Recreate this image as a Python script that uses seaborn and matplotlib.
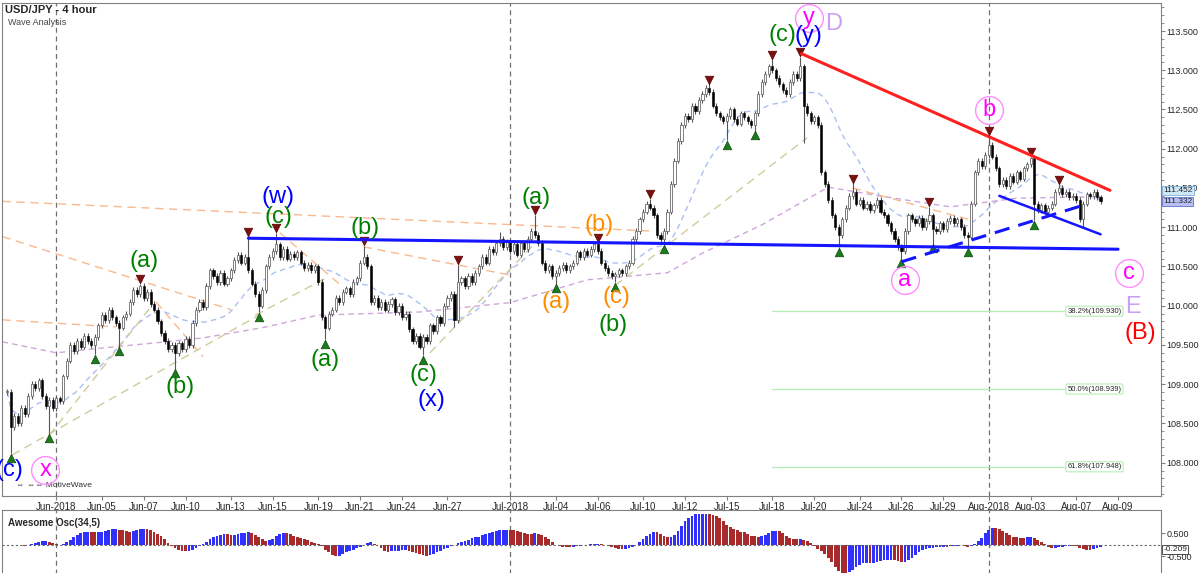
import numpy as np
import pandas as pd
import seaborn as sns
import matplotlib.pyplot as plt
import matplotlib.ticker as mticker

# ---- data --------------------------------------------------------------
# USD/JPY 4-hour closes, one per bar (29 May 2018 16:00 -> 8 Aug 2018 04:00)
closes = [
    108.90, 108.45, 108.60, 108.50, 108.70, 108.62, 108.85, 109.00, 108.95, 109.05,
    108.85, 108.72, 108.80, 108.70, 108.82, 108.78, 109.10, 109.30, 109.50, 109.42,
    109.55, 109.48, 109.62, 109.55, 109.50, 109.60, 109.75, 109.88, 109.82, 109.95,
    109.85, 109.78, 109.72, 109.85, 109.90, 110.05, 110.20, 110.15, 110.25, 110.10,
    110.18, 110.02, 109.95, 109.80, 109.65, 109.55, 109.45, 109.50, 109.40, 109.52,
    109.45, 109.58, 109.50, 109.78, 109.95, 110.05, 109.98, 110.25, 110.45, 110.38,
    110.30, 110.42, 110.28, 110.35, 110.45, 110.58, 110.65, 110.55, 110.62, 110.45,
    110.28, 110.15, 110.00, 110.20, 110.50, 110.62, 110.70, 110.78, 110.62, 110.72,
    110.60, 110.66, 110.62, 110.68, 110.55, 110.48, 110.52, 110.45, 110.50, 110.30,
    109.85, 109.72, 109.90, 109.95, 110.10, 110.05, 110.18, 110.22, 110.15, 110.30,
    110.35, 110.55, 110.62, 110.50, 110.05, 110.10, 109.98, 110.05, 109.95, 110.02,
    110.08, 109.92, 110.00, 109.85, 109.90, 109.70, 109.55, 109.62, 109.48, 109.60,
    109.55, 109.75, 109.68, 109.85, 109.78, 110.00, 110.10, 110.15, 109.82, 110.30,
    110.35, 110.25, 110.38, 110.30, 110.42, 110.50, 110.62, 110.55, 110.72, 110.68,
    110.80, 110.85, 110.75, 110.82, 110.70, 110.78, 110.65, 110.80, 110.72, 110.85,
    110.95, 110.90, 110.80, 110.55, 110.45, 110.50, 110.38, 110.42, 110.48, 110.52,
    110.45, 110.50, 110.55, 110.68, 110.62, 110.70, 110.65, 110.72, 110.78, 110.70,
    110.55, 110.48, 110.42, 110.38, 110.40, 110.45, 110.42, 110.50, 110.55, 110.85,
    110.95, 111.10, 111.20, 111.30, 111.25, 111.15, 110.90, 110.85, 110.95, 111.20,
    111.55, 111.85, 112.10, 112.30, 112.42, 112.38, 112.55, 112.48, 112.62, 112.70,
    112.78, 112.72, 112.55, 112.45, 112.40, 112.35, 112.42, 112.50, 112.38, 112.32,
    112.45, 112.40, 112.35, 112.30, 112.45, 112.70, 112.85, 112.95, 113.05, 113.00,
    112.90, 112.82, 112.75, 112.70, 112.85, 112.95, 112.90, 113.05, 112.55, 112.45,
    112.35, 112.40, 112.30, 111.70, 111.55, 111.35, 111.15, 111.00, 110.90, 111.10,
    111.25, 111.40, 111.45, 111.30, 111.35, 111.25, 111.30, 111.22, 111.28, 111.35,
    111.20, 111.15, 111.05, 110.95, 110.85, 110.75, 110.70, 110.95, 111.15, 111.10,
    111.05, 111.12, 111.00, 111.08, 111.15, 110.98, 110.95, 111.05, 110.98, 111.08,
    111.12, 111.05, 111.10, 111.00, 110.90, 110.88, 111.30, 111.70, 111.85, 111.78,
    111.92, 112.05, 111.90, 111.75, 111.55, 111.60, 111.52, 111.65, 111.58, 111.70,
    111.62, 111.75, 111.80, 111.88, 111.30, 111.22, 111.28, 111.20, 111.25, 111.30,
    111.45, 111.50, 111.42, 111.45, 111.38, 111.40, 111.35, 111.10, 111.30, 111.42,
    111.40, 111.45, 111.38, 111.33,
]

# swing highs (red markers) and swing lows (green markers): bar -> wick price
swing_highs = {38: 110.28, 69: 110.88, 77: 110.93, 102: 110.76, 129: 110.52, 151: 111.16,
               169: 110.80, 184: 111.36, 201: 112.82, 219: 113.14, 227: 113.17, 242: 111.56,
               264: 111.26, 281: 112.16, 293: 111.90, 301: 111.54}
swing_lows = {1: 108.12, 12: 108.38, 25: 109.38, 32: 109.48, 48: 109.20, 72: 109.92,
              91: 109.57, 119: 109.37, 157: 110.28, 174: 110.30, 188: 110.78, 206: 112.11,
              214: 112.23, 238: 110.75, 256: 110.60, 265: 110.79, 275: 110.75, 294: 111.09}
other_highs = {141: 110.94}
other_lows = {128: 109.73, 228: 112.07, 308: 111.00}

# slow moving average (purple), read at a few bars
slow_ma_bars = [-1.4, 14, 27, 43, 56, 73, 89, 118, 144, 166, 189, 199, 216, 235, 251, 270, 289, 313]
slow_ma_vals = [109.54, 109.40, 109.46, 109.53, 109.59, 109.72, 109.88, 109.92, 110.04, 110.33,
                110.42, 110.67, 111.03, 111.51, 111.39, 111.26, 111.37, 111.39]

tick_dates = ["2018-06-01", "2018-06-05", "2018-06-07", "2018-06-10", "2018-06-13", "2018-06-15",
              "2018-06-19", "2018-06-21", "2018-06-24", "2018-06-27", "2018-07-01", "2018-07-04",
              "2018-07-06", "2018-07-10", "2018-07-12", "2018-07-15", "2018-07-18", "2018-07-20",
              "2018-07-24", "2018-07-26", "2018-07-29", "2018-08-01", "2018-08-03", "2018-08-07",
              "2018-08-09"]
tick_labels = ["Jun-2018", "Jun-05", "Jun-07", "Jun-10", "Jun-13", "Jun-15", "Jun-19", "Jun-21",
               "Jun-24", "Jun-27", "Jul-2018", "Jul-04", "Jul-06", "Jul-10", "Jul-12", "Jul-15",
               "Jul-18", "Jul-20", "Jul-24", "Jul-26", "Jul-29", "Aug-2018", "Aug-03", "Aug-07",
               "Aug-09"]
month_dates = ["2018-06-01", "2018-07-01", "2018-08-01"]

# fibonacci retracement levels
fib_names = ["38.2%", "50.0%", "61.8%"]
fib_levels = [109.930, 108.939, 107.948]
fib_span = (219, 303)

# drawn trend lines: (bar0, price0, bar1, price1)
orange_lines = [(-1.4, 111.33, 185, 110.95), (-1.4, 110.88, 64, 109.95), (-1.4, 109.82, 31, 109.73),
                (40, 110.18, 56, 109.35), (78, 110.93, 96, 110.24), (102, 110.75, 144, 110.39),
                (242, 111.50, 276, 111.09)]
tan_lines = [(1.4, 108.10, 72, 109.88), (12, 108.35, 41, 109.98), (71, 109.88, 92, 110.37),
             (121, 109.40, 152, 110.84), (174, 110.26, 229, 112.14)]
red_line = (227.4, 113.21, 315.7, 111.47)
blue_flat = (69, 110.86, 318, 110.72)
blue_lower = (284, 111.40, 313, 110.91)
blue_dashed = (256, 110.56, 308, 111.28)

# wave labels: text, bar, price, colour, circled
wave_labels = [
    ("(c)", 0.6, 107.91, "#0000ff", False), ("x", 10.9, 107.91, "#ff00ff", True),
    ("(a)", 39, 110.57, "#008000", False), ("(b)", 49.4, 108.96, "#008000", False),
    ("(w)", 77.4, 111.39, "#0000ff", False), ("(c)", 77.7, 111.13, "#008000", False),
    ("(a)", 91, 109.31, "#008000", False), ("(b)", 102.3, 110.99, "#008000", False),
    ("(c)", 119, 109.12, "#008000", False), ("(x)", 121.4, 108.80, "#0000ff", False),
    ("(a)", 151.4, 111.37, "#008000", False), ("(a)", 157.1, 110.05, "#ff8c00", False),
    ("(b)", 169.4, 111.03, "#ff8c00", False), ("(c)", 174.3, 110.11, "#ff8c00", False),
    ("(b)", 173.4, 109.75, "#008000", False), ("(c)", 222, 113.45, "#008000", False),
    ("(y)", 229.4, 113.44, "#0000ff", False), ("y", 229.4, 113.67, "#ff00ff", True),
    ("D", 236.6, 113.59, "#c9a0f5", False), ("a", 257, 110.33, "#ff00ff", True),
    ("b", 281, 112.49, "#ff00ff", True), ("c", 321, 110.42, "#ff00ff", True),
    ("E", 322.3, 109.98, "#c9a0f5", False), ("(B)", 324.3, 109.65, "#ff0000", False),
]

# ---- bar clock: 6 bars per weekday, one Sunday-evening bar ----------------
bar_times = []
t = pd.Timestamp("2018-05-29 16:00")
while len(bar_times) < len(closes) + 25:
    if t.weekday() < 5 or (t.weekday() == 6 and t.hour == 20):
        bar_times.append(t)
    t += pd.Timedelta(hours=4)
bar_days = pd.Series([bt.normalize() for bt in bar_times])


def bar_of(day):
    return int(bar_days[bar_days == pd.Timestamp(day)].index[0])


n = len(closes)
df = pd.DataFrame({"bar": np.arange(n), "close": closes})
df["open"] = [closes[0]] + closes[:-1]
df["high"] = df[["open", "close"]].max(axis=1) + 0.035
df["low"] = df[["open", "close"]].min(axis=1) - 0.035
for b, v in {**swing_highs, **other_highs}.items():
    df.loc[b, "high"] = v
for b, v in {**swing_lows, **other_lows}.items():
    df.loc[b, "low"] = v

median = (df["high"] + df["low"]) / 2
df["ao"] = median.rolling(5, min_periods=1).mean() - median.rolling(34, min_periods=1).mean()
df["fast_ma"] = df["close"].rolling(20, min_periods=1).mean()

# ---- figure -----------------------------------------------------------
sns.set_style("white")
plt.rcParams["font.family"] = ["Liberation Sans", "DejaVu Sans"]

fig = plt.figure(figsize=(12, 5.73), dpi=100)
ax = fig.add_axes([0.002, 0.1344, 0.9655, 0.8604])
ax2 = fig.add_axes([0.002, -0.005, 0.9655, 0.115])

x_lo, x_hi = -1.43, 330.3
frame = "#808080"

# moving averages
sns.lineplot(x=df["bar"], y=df["fast_ma"], ax=ax, color="#a9bff5", lw=1, linestyle=(0, (4, 3)))
sns.lineplot(x=slow_ma_bars, y=slow_ma_vals, ax=ax, color="#cfa6dc", lw=1, linestyle=(0, (4, 3)))

for x0, y0, x1, y1 in orange_lines:
    ax.plot([x0, x1], [y0, y1], color="#f9b98e", lw=1, dashes=(6, 4))
for x0, y0, x1, y1 in tan_lines:
    ax.plot([x0, x1], [y0, y1], color="#cfcc9c", lw=1, dashes=(6, 4))

# fib levels
for name, lvl in zip(fib_names, fib_levels):
    ax.plot(fib_span, [lvl, lvl], color="#b5eeb5", lw=0.9)
    ax.text(fib_span[1] + 0.5, lvl, f"{name}({lvl:.3f})", fontsize=5.5, va="center", ha="left",
            bbox=dict(boxstyle="round,pad=0.2", fc="white", ec="#b5eeb5", lw=0.8))

# candles
up = df["close"] >= df["open"]
ax.vlines(df["bar"], df["low"], df["high"], color="#555555", lw=0.8, zorder=3)
body_h = (df["close"] - df["open"]).abs().clip(lower=0.012)
body_b = df[["open", "close"]].min(axis=1)
ax.bar(df["bar"][up], body_h[up], bottom=body_b[up], width=0.62, color="white",
       edgecolor="#6a6a6a", linewidth=0.6, zorder=4)
ax.bar(df["bar"][~up], body_h[~up], bottom=body_b[~up], width=0.62, color="black",
       edgecolor="black", linewidth=0.4, zorder=4)

# swing markers
ax.scatter(list(swing_highs), [v + 0.06 for v in swing_highs.values()], marker="v", s=38,
           color="#7a1010", edgecolors="#5a0000", linewidths=0.5, zorder=5)
ax.scatter(list(swing_lows), [v - 0.06 for v in swing_lows.values()], marker="^", s=38,
           color="#1b7a1b", edgecolors="#0b4a0b", linewidths=0.5, zorder=5)

# trend lines
ax.plot(red_line[::2], red_line[1::2], color="#ff2020", lw=2.2, zorder=6)
ax.plot(blue_flat[::2], blue_flat[1::2], color="#1515ff", lw=2.2, zorder=6)
ax.plot(blue_lower[::2], blue_lower[1::2], color="#1515ff", lw=1.8, zorder=6)
ax.plot(blue_dashed[::2], blue_dashed[1::2], color="#1515ff", lw=2.2, dashes=(5, 3), zorder=6)

# wave labels
for txt, bx, py, col, circ in wave_labels:
    if circ:
        ax.plot(bx, py, "o", ms=20, mfc="none", mec="#ff8cff", mew=1, zorder=7)
    ax.text(bx, py, txt, color=col, fontsize=17, ha="center", va="center", zorder=8)

# month separators
for d in month_dates:
    for a in (ax, ax2):
        a.axvline(bar_of(d), color="#707070", lw=0.9, dashes=(4, 3), zorder=1)

# axes styling
ax.set_xlim(x_lo, x_hi)
ax.set_ylim(107.576, 113.857)
ax.yaxis.tick_right()
ax.set_yticks(np.arange(108.0, 113.51, 0.5))
ax.yaxis.set_major_formatter(mticker.FormatStrFormatter("%.3f"))
ax.yaxis.set_minor_locator(mticker.MultipleLocator(0.1))
ax.tick_params(axis="y", which="major", right=True, length=3, labelsize=6.5, pad=0.8, color=frame)
ax.tick_params(axis="y", which="minor", right=True, length=2, color=frame)
ax.set_xticks([bar_of(d) for d in tick_dates])
ax.set_xticklabels(tick_labels)
ax.tick_params(axis="x", bottom=True, length=3, labelsize=7, pad=1.5, color=frame)
ax.set_xlabel("")
ax.set_ylabel("")
for s in ax.spines.values():
    s.set_color(frame)
    s.set_linewidth(0.8)

ax.text(1.002, 111.47, "111.452", transform=ax.get_yaxis_transform(), fontsize=6, va="center",
        ha="left", bbox=dict(boxstyle="square,pad=0.1", fc="#cfe6f7", ec="#7ab0d8", lw=0.6))
ax.text(1.002, 111.332, "111.332", transform=ax.get_yaxis_transform(), fontsize=6, va="center",
        ha="left", bbox=dict(boxstyle="square,pad=0.1", fc="#b7bff5", ec="#6070c8", lw=0.6))
ax.text(0.012, 0.014, "\u21d4 \u21d4\u21d4 MotiveWave", transform=ax.transAxes, fontsize=6,
        color="#333333", ha="left", va="bottom")

fig.text(0.004, 0.982, "USD/JPY - 4 hour", fontsize=8, fontweight="bold", va="center")
fig.text(0.007, 0.960, "Wave Analysis", fontsize=6.5, color="#444444", va="center")

# awesome oscillator
ao_col = np.where(df["ao"].diff().fillna(0) >= 0, "#3030ff", "#a82a2a")
ax2.bar(df["bar"], df["ao"], width=0.8, color=ao_col, linewidth=0)
ax2.axhline(0, color="#666666", lw=0.8, dashes=(2, 2))
ax2.set_xlim(x_lo, x_hi)
ax2.set_ylim(-1.36, 1.5)
ax2.set_xticks([])
ax2.yaxis.tick_right()
ax2.set_yticks([0.5, -0.5])
ax2.yaxis.set_major_formatter(mticker.FormatStrFormatter("%.3f"))
ax2.tick_params(axis="y", right=True, length=3, labelsize=6.5, pad=0.8, color=frame)
for s in ax2.spines.values():
    s.set_color(frame)
    s.set_linewidth(0.8)
ax2.text(0.005, 0.8, "Awesome Osc(34,5)", transform=ax2.transAxes, fontsize=7,
         fontweight="bold", va="center")
ax2.text(1.002, -0.209, "-0.209", transform=ax2.get_yaxis_transform(), fontsize=6, va="center",
         ha="left", bbox=dict(boxstyle="square,pad=0.1", fc="white", ec="#333333", lw=0.6))

fig.savefig("out.png", dpi=100)
